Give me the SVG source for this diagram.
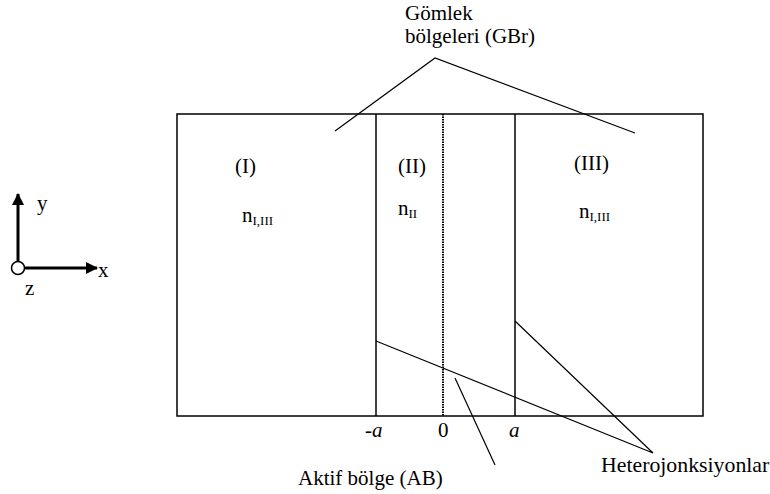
<svg xmlns="http://www.w3.org/2000/svg" width="770" height="494" viewBox="0 0 770 494">
<style>
text{font-family:"Liberation Serif","Times New Roman","DejaVu Serif",serif;font-size:21px;fill:#000}
.sub{font-size:13px}
.ln{stroke:#000;stroke-width:1.5;fill:none}
.th{stroke:#000;stroke-width:1.2;fill:none}
</style>
<defs>
<marker id="ah" markerWidth="12" markerHeight="12" refX="11" refY="6" orient="auto" markerUnits="userSpaceOnUse">
<path d="M0,0 L12,6 L0,12 z" fill="#000"/>
</marker>
</defs>
<rect width="770" height="494" fill="#fff"/>
<g id="structure">
<rect x="177" y="114" width="526" height="302" class="ln"/>
<line x1="376" y1="114" x2="376" y2="416" class="ln"/>
<line x1="515" y1="114" x2="515" y2="416" class="ln"/>
<line x1="443" y1="114" x2="443" y2="416" stroke="#000" stroke-width="2" stroke-dasharray="1.5,1"/>
</g>
<g id="axes">
<line x1="18" y1="262" x2="18" y2="194" stroke="#000" stroke-width="3" marker-end="url(#ah)"/>
<line x1="24" y1="268" x2="97" y2="268" stroke="#000" stroke-width="3" marker-end="url(#ah)"/>
<circle cx="18" cy="268" r="6.5" fill="#fff" stroke="#000" stroke-width="1.5"/>
<text x="37" y="210">y</text>
<text x="98" y="277">x</text>
<text x="25" y="295">z</text>
</g>
<g id="labels">
<text x="235" y="173">(I)</text>
<text x="398" y="173">(II)</text>
<text x="574" y="170">(III)</text>
<text x="242" y="222">n<tspan class="sub" dy="3">I,III</tspan></text>
<text x="398" y="215">n<tspan class="sub" dy="3">II</tspan></text>
<text x="579" y="218">n<tspan class="sub" dy="3">I,III</tspan></text>
<text x="365" y="437" font-style="italic">-a</text>
<text x="438" y="437">0</text>
<text x="509" y="437" font-style="italic">a</text>
<text x="405" y="20">Gömlek</text>
<text x="405" y="43">bölgeleri (GBr)</text>
<text x="298" y="485">Aktif bölge (AB)</text>
<text x="601" y="472" style="font-size:21.8px">Heterojonksiyonlar</text>
</g>
<g id="connectors" class="th">
<polyline points="335,131 435,58 635,133"/>
<polyline points="376,341 653,453 515,321"/>
<line x1="455" y1="378" x2="495" y2="465"/>
</g>
</svg>
